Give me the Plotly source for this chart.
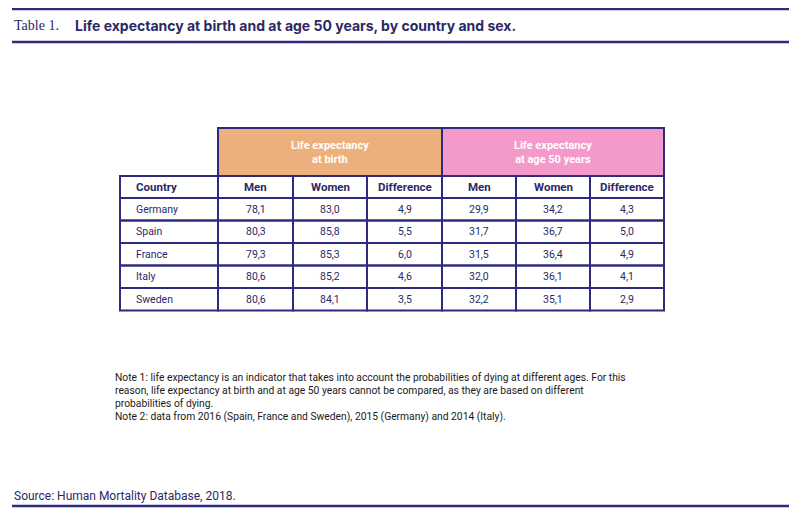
import plotly.graph_objects as go

# Table data
countries = ["Germany", "Spain", "France", "Italy", "Sweden"]
birth_men = ["78,1", "80,3", "79,3", "80,6", "80,6"]
birth_women = ["83,0", "85,8", "85,3", "85,2", "84,1"]
birth_diff = ["4,9", "5,5", "6,0", "4,6", "3,5"]
age50_men = ["29,9", "31,7", "31,5", "32,0", "32,2"]
age50_women = ["34,2", "36,7", "36,4", "36,1", "35,1"]
age50_diff = ["4,3", "5,0", "4,9", "4,1", "2,9"]

group_labels = ["Life expectancy<br>at birth", "Life expectancy<br>at age 50 years"]
col_labels = ["Country", "Men", "Women", "Difference", "Men", "Women", "Difference"]

title_prefix = "Table 1."
title_text = "Life expectancy at birth and at age 50 years, by country and sex."
notes = [
    "Note 1: life expectancy is an indicator that takes into account the probabilities of dying at different ages. For this",
    "reason, life expectancy at birth and at age 50 years cannot be compared, as they are based on different",
    "probabilities of dying.",
    "Note 2: data from 2016 (Spain, France and Sweden), 2015 (Germany) and 2014 (Italy).",
]
source = "Source: Human Mortality Database, 2018."

# Layout geometry (pixel coordinates of the page)
NAVY = "#2e2a7d"
TEXT = "#2b2966"
ORANGE = "#ecb07c"
PINK = "#f49aca"
FONT = "Roboto"
OFF = 8  # page body margin

col_edges = [120, 218, 293, 367, 442, 516, 590, 664]
group_top, group_bot = 128, 176
head_bot = 198
row_h = 22.5

columns = [countries, birth_men, birth_women, birth_diff, age50_men, age50_women, age50_diff]

fig = go.Figure()
shapes = []
annotations = []

# group header cells
for i, (label, fill) in enumerate(zip(group_labels, [ORANGE, PINK])):
    x0, x1 = col_edges[1 + 3 * i], col_edges[4 + 3 * i]
    shapes.append(dict(type="rect", x0=x0, x1=x1, y0=group_top, y1=group_bot,
                       fillcolor=fill, line=dict(color=NAVY, width=2), layer="below"))
    annotations.append(dict(x=(x0 + x1) / 2, y=(group_top + group_bot) / 2, text=f"<b>{label}</b>",
                            showarrow=False, font=dict(family=FONT, size=11, color="white")))

# column header row + body rows
n_rows = len(countries)
for c in range(len(col_labels)):
    x0, x1 = col_edges[c], col_edges[c + 1]
    shapes.append(dict(type="rect", x0=x0, x1=x1, y0=group_bot, y1=head_bot,
                       line=dict(color=NAVY, width=2)))
    if c == 0:
        ax, xanchor = x0 + 14, "left"
    else:
        ax, xanchor = (x0 + x1) / 2, "center"
    annotations.append(dict(x=ax, y=(group_bot + head_bot) / 2, text=f"<b>{col_labels[c]}</b>",
                            xanchor=xanchor, showarrow=False,
                            font=dict(family=FONT, size=11.5, color=TEXT)))
    for r in range(n_rows):
        y0 = head_bot + r * row_h
        y1 = y0 + row_h
        shapes.append(dict(type="rect", x0=x0, x1=x1, y0=y0, y1=y1,
                           line=dict(color=NAVY, width=2)))
        annotations.append(dict(x=ax, y=(y0 + y1) / 2, text=columns[c][r],
                                xanchor=xanchor, showarrow=False,
                                font=dict(family=FONT, size=10.5, color=TEXT)))

# rules
for y in [9, 42, 506]:
    shapes.append(dict(type="line", x0=12, x1=789, y0=y, y1=y, line=dict(color=NAVY, width=2.5)))

# title
annotations.append(dict(x=12, y=25, text=title_prefix, xanchor="left", showarrow=False,
                        font=dict(family="Liberation Serif", size=14, color=TEXT)))
annotations.append(dict(x=73, y=25, text=f"<b>{title_text}</b>", xanchor="left", showarrow=False,
                        font=dict(family="Inter", size=14, color=TEXT)))

# notes
for i, line in enumerate(notes):
    annotations.append(dict(x=113, y=377 + i * 13, text=line, xanchor="left", showarrow=False,
                            font=dict(family=FONT, size=10.3, color="#1a1a1a")))

annotations.append(dict(x=12, y=496, text=source, xanchor="left", showarrow=False,
                        font=dict(family=FONT, size=12, color=TEXT)))

fig.update_layout(
    width=800, height=520,
    margin=dict(l=0, r=0, t=0, b=0),
    paper_bgcolor="white", plot_bgcolor="white",
    xaxis=dict(range=[OFF, 800 + OFF], visible=False, fixedrange=True),
    yaxis=dict(range=[520 + OFF, OFF], visible=False, fixedrange=True),
    shapes=shapes, annotations=annotations,
    showlegend=False,
)

fig.write_html("out.html")
